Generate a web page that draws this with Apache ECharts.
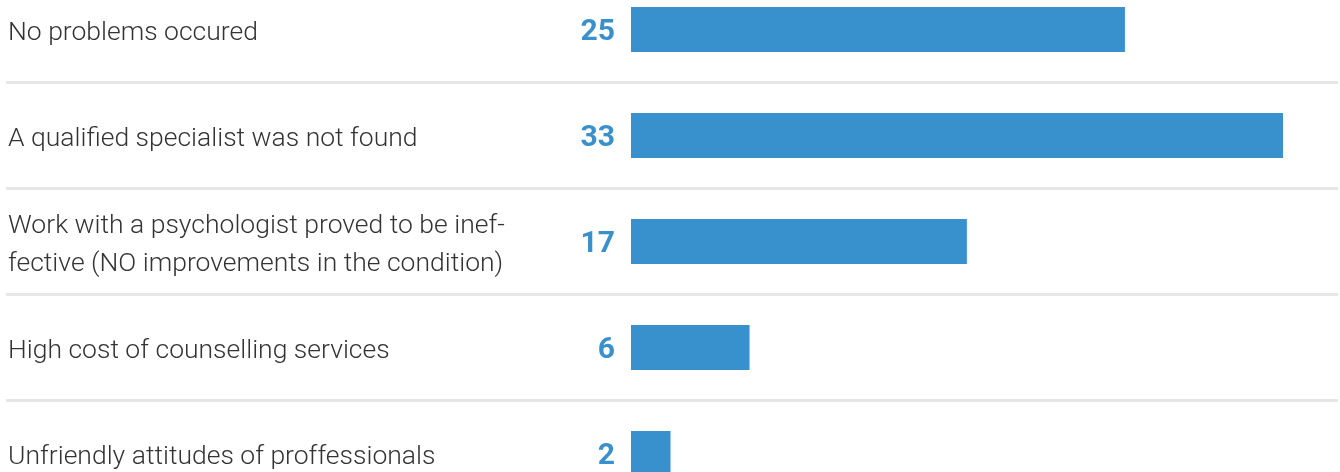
<!DOCTYPE html>
<html>
<head>
<meta charset="utf-8">
<style>
  html, body { margin: 0; padding: 0; background: #ffffff; }
  #chart { width: 1340px; height: 472px; }
</style>
<script src="https://cdn.jsdelivr.net/npm/echarts@6/dist/echarts.min.js"></script>
</head>
<body>
<div id="chart"></div>
<script>
// Reasons reported for problems with psychological help
const categories = [
  'No problems occured',
  'A qualified specialist was not found',
  'Work with a psychologist proved to be inef-\nfective (NO improvements in the condition)',
  'High cost of counselling services',
  'Unfriendly attitudes of proffessionals'
];
const values = [25, 33, 17, 6, 2];

const BLUE = '#3890cd';
const chart = echarts.init(document.getElementById('chart'), null, { renderer: 'canvas' });

// rows are 106px tall; the first and last rows run past the canvas edges
const ROW_TOP = -23.5;
const ROWS_HEIGHT = 530;
const TEXT_DROP = 4; // category text sits slightly below the row centre

const hiddenAxis = {
  axisLine: { show: false }, axisTick: { show: false },
  axisLabel: { show: false }, splitLine: { show: false }
};

chart.setOption({
  animation: false,
  backgroundColor: '#ffffff',
  grid: [
    // bars
    { left: 631, right: 57, top: ROW_TOP, height: ROWS_HEIGHT, outerBoundsMode: 'none', containLabel: false },
    // full-width row separators
    { left: 6, right: 2, top: ROW_TOP, height: ROWS_HEIGHT, outerBoundsMode: 'none', containLabel: false },
    // category text
    { left: 6, right: 2, top: ROW_TOP + TEXT_DROP, height: ROWS_HEIGHT, outerBoundsMode: 'none', containLabel: false }
  ],
  xAxis: [
    { type: 'value', gridIndex: 0, min: 0, max: 33, show: false },
    { type: 'value', gridIndex: 1, min: 0, max: 1, show: false },
    { type: 'value', gridIndex: 2, min: 0, max: 1, show: false }
  ],
  yAxis: [
    Object.assign({ type: 'category', gridIndex: 0, data: categories, inverse: true }, hiddenAxis),
    Object.assign({ type: 'category', gridIndex: 1, data: categories, inverse: true }, hiddenAxis, {
      splitLine: { show: true, lineStyle: { color: '#e6e6e6', width: 3 } }
    }),
    Object.assign({ type: 'category', gridIndex: 2, data: categories, inverse: true }, hiddenAxis, {
      axisLabel: {
        show: true, inside: true, margin: 2, align: 'left',
        color: '#333333', fontFamily: 'Roboto', fontWeight: 300,
        fontSize: 26.5, lineHeight: 38
      }
    })
  ],
  series: [{
    type: 'bar',
    xAxisIndex: 0, yAxisIndex: 0,
    data: values,
    barWidth: 45,
    itemStyle: { color: BLUE },
    label: {
      show: true, position: 'left', distance: 16, offset: [0, 3],
      color: BLUE, fontFamily: 'Roboto', fontWeight: 'bold', fontSize: 30
    }
  }]
});
</script>
</body>
</html>
